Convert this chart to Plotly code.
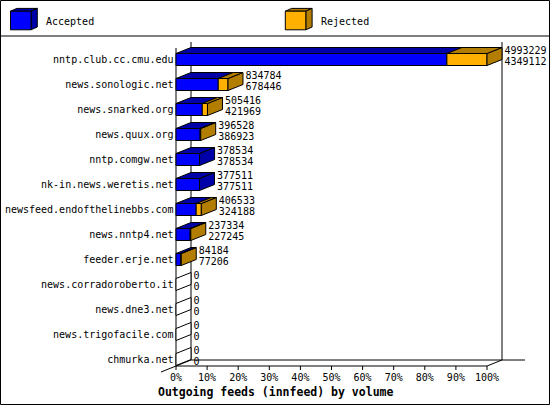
import plotly.graph_objects as go

# innfeed outgoing feeds, top to bottom
hosts = [
    "nntp.club.cc.cmu.edu",
    "news.sonologic.net",
    "news.snarked.org",
    "news.quux.org",
    "nntp.comgw.net",
    "nk-in.news.weretis.net",
    "newsfeed.endofthelinebbs.com",
    "news.nntp4.net",
    "feeder.erje.net",
    "news.corradoroberto.it",
    "news.dne3.net",
    "news.trigofacile.com",
    "chmurka.net",
]
offered = [4993229, 834784, 505416, 396528, 378534, 377511, 406533, 237334, 84184, 0, 0, 0, 0]
accepted = [4349112, 678446, 421969, 386923, 378534, 377511, 324188, 227245, 77206, 0, 0, 0, 0]
tick_pct = [0, 10, 20, 30, 40, 50, 60, 70, 80, 90, 100]

BLUE, BLUE_DK = "#0000ff", "#0000a8"
ORANGE, ORANGE_DK = "#ffb000", "#b37d00"
MONO = "DejaVu Sans Mono"

W, H_FIG = 550, 405
# pixel <-> axis mapping (x: percent, y: row index)
X0, PX = 176, 3.11
Y0, PY = 59.5, 25.0


def px2x(p):
    return (p - X0) / PX


def px2y(p):
    return (p - Y0) / PY


BAR_H = 12 / PY      # front face height
DX = 15 / PX         # 3d depth
DY = 6 / PY

maxv = max(offered)
rows = list(range(len(hosts)))
acc_pct = [a / maxv * 100 for a in accepted]
tot_pct = [o / maxv * 100 for o in offered]

fig = go.Figure()

# top and side faces of the 3d bars
tops = {BLUE_DK: ([], []), ORANGE_DK: ([], []), "white": ([], [])}
sides = {BLUE_DK: ([], []), ORANGE_DK: ([], []), "white": ([], [])}


def poly(store, xs, ys):
    store[0].extend(xs + [xs[0], None])
    store[1].extend(ys + [ys[0], None])


for r, a, t in zip(rows, acc_pct, tot_pct):
    yf = r - BAR_H / 2
    yb = yf - DY
    if t == 0:
        poly(sides["white"], [0, DX, DX, 0], [yf, yb, yb + BAR_H, yf + BAR_H])
        continue
    poly(tops[BLUE_DK], [0, a, a + DX, DX], [yf, yf, yb, yb])
    if t > a:
        poly(tops[ORANGE_DK], [a, t, t + DX, a + DX], [yf, yf, yb, yb])
    col = ORANGE_DK if t > a else BLUE_DK
    poly(sides[col], [t, t + DX, t + DX, t], [yf, yb, yb + BAR_H, yf + BAR_H])

for store in (sides, tops):
    for col, (xs, ys) in store.items():
        if not xs:
            continue
        fig.add_trace(go.Scatter(
            x=xs, y=ys, mode="lines", fill="toself", fillcolor=col,
            line=dict(color="black", width=1), hoverinfo="skip", showlegend=False,
        ))

# front faces
fig.add_trace(go.Bar(
    y=rows, x=[a if a > 0 else None for a in acc_pct], base=0,
    orientation="h", width=BAR_H, marker=dict(color=BLUE, line=dict(color="black", width=1)),
    name="Accepted", showlegend=False,
))
fig.add_trace(go.Bar(
    y=rows, x=[(t - a) if t > a else None for a, t in zip(acc_pct, tot_pct)], base=acc_pct,
    orientation="h", width=BAR_H, marker=dict(color=ORANGE, line=dict(color="black", width=1)),
    name="Rejected", showlegend=False,
))

# value labels: offered on top, accepted below
lab_x = [t + DX + 0.8 for t in tot_pct]
fig.add_trace(go.Scatter(
    x=lab_x, y=[r - 0.32 for r in rows], mode="text", text=[str(v) for v in offered],
    textposition="middle right", textfont=dict(family=MONO, size=10, color="black"),
    hoverinfo="skip", showlegend=False, cliponaxis=False,
))
fig.add_trace(go.Scatter(
    x=lab_x, y=[r + 0.1 for r in rows], mode="text", text=[str(v) for v in accepted],
    textposition="middle right", textfont=dict(family=MONO, size=10, color="black"),
    hoverinfo="skip", showlegend=False, cliponaxis=False,
))

# host names
fig.add_trace(go.Scatter(
    x=[px2x(173.5)] * len(hosts), y=[r + 0.03 for r in rows], mode="text", text=hosts,
    textposition="middle left", textfont=dict(family=MONO, size=10, color="black"),
    hoverinfo="skip", showlegend=False, cliponaxis=False,
))

# percentage ticks
floor_f = len(hosts) - 1 + BAR_H / 2 + 0.02
floor_b = floor_f - DY
fig.add_trace(go.Scatter(
    x=tick_pct, y=[px2y(378.5)] * len(tick_pct), mode="text", text=[f"{p}%" for p in tick_pct],
    textposition="middle center", textfont=dict(family=MONO, size=10, color="black"),
    hoverinfo="skip", showlegend=False, cliponaxis=False,
))

top_b = px2y(42)
top_f = top_b + DY
ln = dict(color="black", width=1)
shapes = [
    dict(type="line", x0=DX, x1=DX, y0=top_b, y1=floor_b),
    dict(type="line", x0=100 + DX, x1=100 + DX, y0=top_b, y1=floor_b),
    dict(type="line", x0=DX, x1=px2x(525), y0=floor_b, y1=floor_b),
    dict(type="line", x0=0, x1=0, y0=top_f, y1=floor_f),
    dict(type="line", x0=0, x1=100, y0=floor_f, y1=floor_f),
    dict(type="line", x0=100, x1=100 + DX, y0=floor_f, y1=floor_b),
    dict(type="line", x0=-DX, x1=DX, y0=floor_f + DY, y1=floor_b),
]
for p in tick_pct:
    shapes.append(dict(type="line", x0=p, x1=p, y0=floor_f, y1=floor_f + 4 / PY))
for s in shapes:
    s.update(xref="x", yref="y", line=ln, layer="below")

# frame and legend separator
shapes.append(dict(type="rect", xref="paper", yref="paper", x0=0.5 / W, x1=549.5 / W,
                   y0=0.5 / H_FIG, y1=404.5 / H_FIG, line=ln))
shapes.append(dict(type="line", xref="paper", yref="paper", x0=0, x1=1,
                   y0=1 - 36 / H_FIG, y1=1 - 36 / H_FIG, line=ln))


# legend cubes
def cube(left, front_col, dark_col):
    l, r_, t_, b_ = px2x(left), px2x(left + 20.5), px2y(11.2), px2y(29.8)
    dx, dy = 6.3 / PX, 2.8 / PY
    out = []
    for pts, col in (
        ([(l, t_), (r_, t_), (r_ + dx, t_ - dy), (l + dx, t_ - dy)], dark_col),
        ([(r_, t_), (r_ + dx, t_ - dy), (r_ + dx, b_ - dy), (r_, b_)], dark_col),
        ([(l, t_), (r_, t_), (r_, b_), (l, b_)], front_col),
    ):
        path = "M " + " L ".join(f"{x},{y}" for x, y in pts) + " Z"
        out.append(dict(type="path", xref="x", yref="y", path=path,
                        fillcolor=col, line=ln))
    return out


shapes += cube(10.5, BLUE, BLUE_DK)
shapes += cube(285.3, ORANGE, ORANGE_DK)

annotations = [
    dict(x=px2x(44), y=px2y(21), xref="x", yref="y", text="Accepted", showarrow=False,
         xanchor="left", yanchor="middle", font=dict(family=MONO, size=10, color="black")),
    dict(x=px2x(318.5), y=px2y(21), xref="x", yref="y", text="Rejected", showarrow=False,
         xanchor="left", yanchor="middle", font=dict(family=MONO, size=10, color="black")),
    dict(x=0.5, y=1 - 392 / H_FIG, xref="paper", yref="paper",
         text="<b>Outgoing feeds (innfeed) by volume</b>", showarrow=False,
         xanchor="center", yanchor="middle",
         font=dict(family=MONO, size=11.5, color="black")),
]

fig.update_layout(
    width=W, height=H_FIG,
    margin=dict(l=0, r=0, t=0, b=0),
    paper_bgcolor="white", plot_bgcolor="white",
    barmode="overlay",
    xaxis=dict(range=[px2x(0), px2x(W)], visible=False, fixedrange=True),
    yaxis=dict(range=[px2y(H_FIG), px2y(0)], visible=False, fixedrange=True),
    shapes=shapes,
    annotations=annotations,
    showlegend=False,
)

# page body has an 8px default margin; drop it so the chart sits at the window corner
fig.write_html("out.html", config={"displayModeBar": False},
               post_script="document.body.style.margin='0px';")
